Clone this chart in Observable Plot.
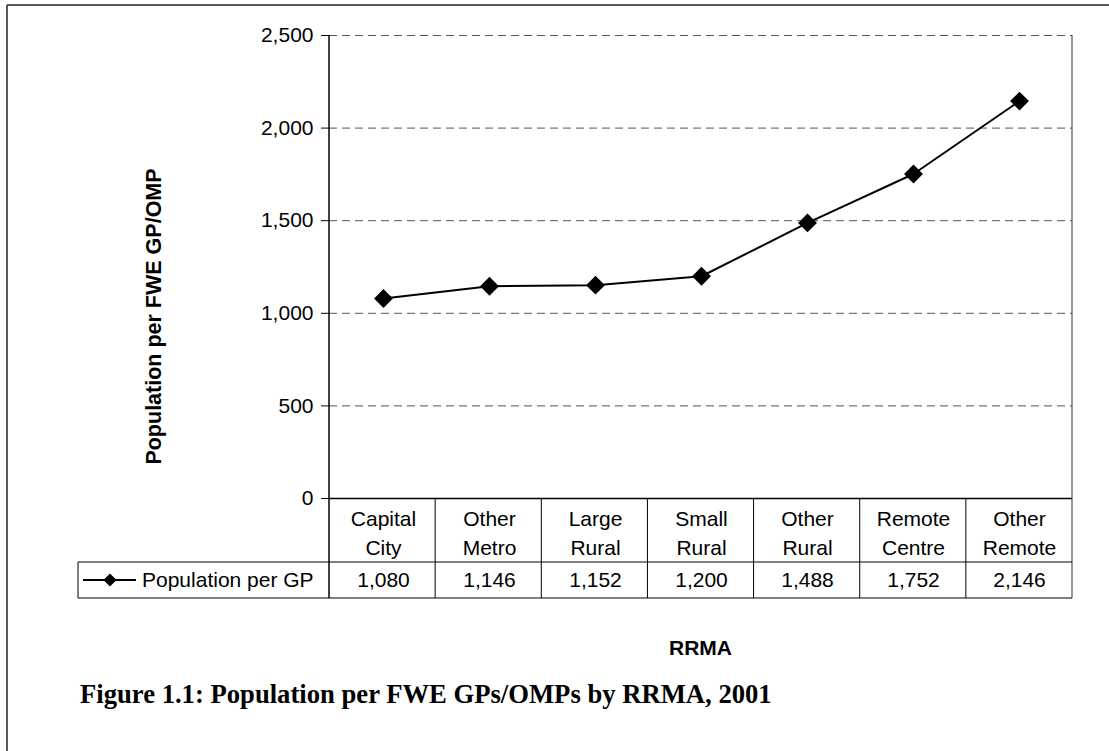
<!DOCTYPE html>
<html>
<head>
<meta charset="utf-8">
<script src="https://cdn.jsdelivr.net/npm/d3@7"></script>
<script src="https://cdn.jsdelivr.net/npm/@observablehq/plot@0.6"></script>
<style>
  html, body { margin: 0; padding: 0; background: #fff; }
  #chart { width: 1109px; height: 751px; overflow: hidden; }
</style>
</head>
<body>
<div id="chart"></div>
<script>
// ---- Data ----
const categories = ["Capital City", "Other Metro", "Large Rural", "Small Rural", "Other Rural", "Remote Centre", "Other Remote"];
const values = [1080, 1146, 1152, 1200, 1488, 1752, 2146];
const yTicks = [0, 500, 1000, 1500, 2000, 2500];
const seriesName = "Population per GP";
const yTitle = "Population per FWE GP/OMP";
const xTitle = "RRMA";
const caption = "Figure 1.1: Population per FWE GPs/OMPs by RRMA, 2001";

const data = categories.map((c, i) => ({cat: c, value: values[i]}));
const fmt = d3.format(",");

// ---- Layout ----
const W = 1109, H = 751;
const headerRowH = 64, valueRowH = 36;
const sans = "'Liberation Sans', Arial, Helvetica, sans-serif";

const chart = Plot.plot({
  width: W,
  height: H,
  marginLeft: 329,
  marginRight: 37,
  marginTop: 35,
  marginBottom: 253,
  style: {fontFamily: sans, fontSize: "21px", color: "#000", background: "#fff", overflow: "visible"},
  x: {type: "band", domain: categories, padding: 0, axis: null},
  y: {domain: [0, 2500], ticks: yTicks, tickFormat: d => fmt(d), tickSize: 8, tickPadding: 8, label: null},
  marks: [
    Plot.ruleY(yTicks.filter(t => t > 0), {stroke: "#555", strokeWidth: 1, strokeDasharray: "8,5"}),
    Plot.ruleY([0], {stroke: "#000", strokeWidth: 1.5}),
    Plot.line(data, {x: "cat", y: "value", stroke: "#000", strokeWidth: 2}),
    Plot.dot(data, {x: "cat", y: "value", symbol: "diamond2", r: 8.5, fill: "#000", stroke: "none"}),
    Plot.text(categories, {x: d => d, y: () => 0, text: d => d.replace(" ", "\n"), dy: 33, lineHeight: 1.357, lineAnchor: "middle", fill: "#000"}),
    Plot.text(data, {x: "cat", y: () => 0, text: d => fmt(d.value), dy: 82, lineAnchor: "middle", fill: "#000"})
  ]
});

document.getElementById("chart").appendChild(chart);

// ---- Extra decorations using the plot's scales ----
const svg = d3.select(chart);
const xs = chart.scale("x");
const ys = chart.scale("y");
const xLeft = Math.min(...xs.range), xRight = Math.max(...xs.range);
const step = (xRight - xLeft) / categories.length;
const yTop = ys.apply(2500), yZero = ys.apply(0);
const yRow = yZero + headerRowH, yBottom = yRow + valueRowH;
const legendLeft = 78;

const g = svg.append("g").attr("fill", "none");
const line = (x1, y1, x2, y2, stroke = "#000", sw = 1) =>
  g.append("line").attr("x1", x1).attr("y1", y1).attr("x2", x2).attr("y2", y2)
   .attr("stroke", stroke).attr("stroke-width", sw);

// outer frame (left + top)
line(7, 5, 7, H, "#222", 1.5);
line(7, 5, W, 5, "#222", 1.5);

// plot area left / right borders, extending through the data table
line(xLeft, yTop, xLeft, yBottom, "#000", 1.5);
line(xRight, yTop, xRight, yBottom, "#333", 1);
// internal table column separators
for (let i = 1; i < categories.length; i++) line(xLeft + i * step, yZero, xLeft + i * step, yBottom, "#000", 1);
// table rows
line(legendLeft, yRow, xRight, yRow, "#000", 1);
line(legendLeft, yBottom, xRight, yBottom, "#000", 1);
line(legendLeft, yRow, legendLeft, yBottom, "#000", 1);

// legend key in table
const ly = (yRow + yBottom) / 2;
line(83, ly, 136, ly, "#000", 2);
svg.append("path")
  .attr("d", d3.symbol(d3.symbolDiamond2, 110)())
  .attr("transform", `translate(110,${ly})`)
  .attr("fill", "#000");
svg.append("text")
  .attr("x", 142).attr("y", ly).attr("dy", "0.35em")
  .attr("text-anchor", "start")
  .attr("font-family", sans).attr("font-size", 21).attr("fill", "#000")
  .text(seriesName);

// y axis title
svg.append("text")
  .attr("transform", `translate(161,${(yTop + yBottom) / 2}) rotate(-90)`)
  .attr("text-anchor", "middle")
  .attr("font-family", sans).attr("font-size", 21.5).attr("font-weight", "bold").attr("fill", "#000")
  .text(yTitle);

// x axis title
svg.append("text")
  .attr("x", (xLeft + xRight) / 2).attr("y", 655)
  .attr("text-anchor", "middle")
  .attr("font-family", sans).attr("font-size", 21).attr("font-weight", "bold").attr("fill", "#000")
  .text(xTitle);

// caption
const cap = svg.append("text")
  .attr("x", 80).attr("y", 703)
  .attr("text-anchor", "start")
  .attr("font-family", "'Liberation Serif', 'DejaVu Serif', serif").attr("font-size", 22)
  .attr("font-weight", "bold").attr("fill", "#000")
  .text(caption);
const cw = cap.node().getComputedTextLength();
if (cw > 0) cap.attr("font-size", 22 * 692 / cw);
</script>
</body>
</html>
